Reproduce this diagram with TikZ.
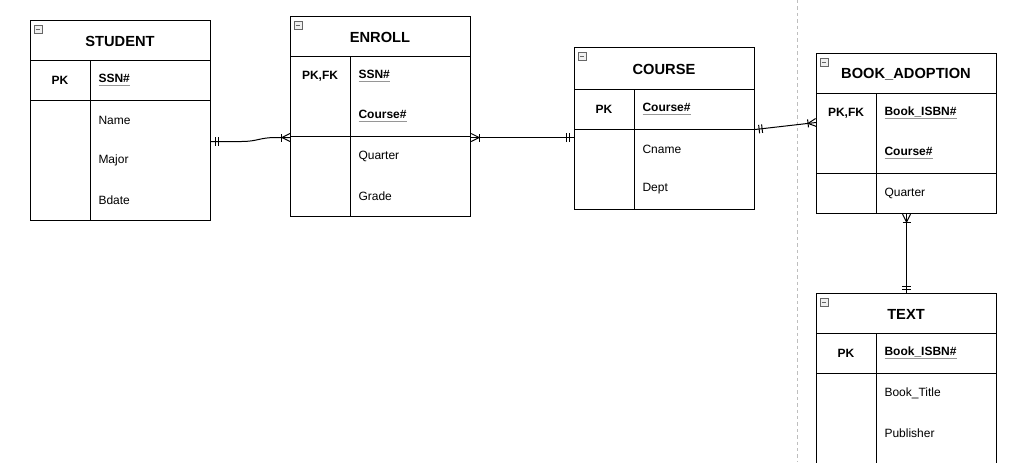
\documentclass[tikz,border=0pt]{standalone}
\usepackage{fontspec}
\setmainfont{Liberation Sans}
\usetikzlibrary{positioning, calc, decorations.markings}

\definecolor{keygray}{RGB}{150,150,150}
\definecolor{sepgray}{RGB}{190,190,190}

\newcommand{\keyname}[1]{{\color{keygray}\underline{\color{black}#1}}}

\tikzset{
  entity/.style={draw, rectangle, anchor=north west, minimum width=135pt, inner sep=0pt},
  title/.style={font=\fontsize{11}{13}\selectfont\bfseries, inner sep=0pt},
  attr/.style={font=\fontsize{9}{11}\selectfont, anchor=west, inner sep=0pt},
  keytag/.style={font=\fontsize{9}{11}\selectfont\bfseries, inner sep=0pt},
  collapse/.style={draw=gray!80!black, fill=gray!12, minimum size=6pt, inner sep=0pt, line width=0.5pt,
    path picture={\draw[line width=0.6pt] ([xshift=1.3pt]path picture bounding box.west) -- ([xshift=-1.3pt]path picture bounding box.east);}},
  sepline/.style={draw=sepgray, line width=0.75pt, dash pattern=on 2.6pt off 2.2pt},
  % crow's foot ends
  one start/.style={postaction={decorate, decoration={markings,
      mark=at position 0.1pt with {\draw (3pt,-3.2pt) -- (3pt,3.2pt); \draw (5.25pt,-3.2pt) -- (5.25pt,3.2pt);}}}},
  one end/.style={postaction={decorate, decoration={markings,
      mark=at position 0.9999 with {\draw (-3pt,-3.2pt) -- (-3pt,3.2pt); \draw (-5.25pt,-3.2pt) -- (-5.25pt,3.2pt);}}}},
  many start/.style={postaction={decorate, decoration={markings,
      mark=at position 0.1pt with {\draw (0,3pt) -- (6pt,0) -- (0,-3pt); \draw (6pt,-3pt) -- (6pt,3pt);}}}},
  many end/.style={postaction={decorate, decoration={markings,
      mark=at position 0.9999 with {\draw (0,3pt) -- (-6pt,0) -- (0,-3pt); \draw (-6pt,-3pt) -- (-6pt,3pt);}}}},
}

\begin{document}
\begin{tikzpicture}[x=0.75pt, y=-0.75pt, line width=0.75pt]
  \useasboundingbox (0,0) rectangle (1009,462);
  \clip (0,0) rectangle (1009,462);

  \draw[sepline] (797,0) -- (797,462);

  % STUDENT
  \node[entity, minimum height=150pt] (student) at (30,20) {};
  \draw (30,60) -- (210,60);
  \draw (30,100) -- (210,100);
  \draw (90,60) -- (90,220);
  \node[collapse] (student-icon) at (38,29) {};
  \node[title] (student-title) at (120,41) {STUDENT};
  \node[keytag] (student-pk) at (60,80) {PK};
  \node[attr] (student-ssn) at (98,80) {\bfseries\keyname{SSN\#}};
  \node[attr] (student-name) at (98,120) {Name};
  \node[attr] (student-major) at (98,160) {Major};
  \node[attr] (student-bdate) at (98,200) {Bdate};

  % ENROLL
  \node[entity, minimum height=150pt] (enroll) at (290,16) {};
  \draw (290,56) -- (470,56);
  \draw (290,136) -- (470,136);
  \draw (350,56) -- (350,216);
  \node[collapse] (enroll-icon) at (298,25) {};
  \node[title] (enroll-title) at (380,37) {ENROLL};
  \node[keytag] (enroll-pk) at (320,76) {PK,FK};
  \node[attr] (enroll-ssn) at (358,76) {\bfseries\keyname{SSN\#}};
  \node[attr] (enroll-course) at (358,116) {\bfseries\keyname{Course\#}};
  \node[attr] (enroll-quarter) at (358,156) {Quarter};
  \node[attr] (enroll-grade) at (358,196) {Grade};

  % COURSE
  \node[entity, minimum height=121.5pt] (course) at (574,47) {};
  \draw (574,89) -- (754,89);
  \draw (574,129) -- (754,129);
  \draw (634,89) -- (634,209);
  \node[collapse] (course-icon) at (582,56) {};
  \node[title] (course-title) at (664,69) {COURSE};
  \node[keytag] (course-pk) at (604,109) {PK};
  \node[attr] (course-no) at (642,109) {\bfseries\keyname{Course\#}};
  \node[attr] (course-cname) at (642,149) {Cname};
  \node[attr] (course-dept) at (642,189) {Dept};

  % BOOK_ADOPTION
  \node[entity, minimum height=120pt] (bookad) at (816,53) {};
  \draw (816,93) -- (996,93);
  \draw (816,173) -- (996,173);
  \draw (876,93) -- (876,213);
  \node[collapse] (bookad-icon) at (824,62) {};
  \node[title] (bookad-title) at (906,74) {BOOK\_ADOPTION};
  \node[keytag] (bookad-pk) at (846,113) {PK,FK};
  \node[attr] (bookad-isbn) at (884,113) {\bfseries\keyname{Book\_ISBN\#}};
  \node[attr] (bookad-course) at (884,153) {\bfseries\keyname{Course\#}};
  \node[attr] (bookad-quarter) at (884,193) {Quarter};

  % TEXT
  \node[entity, minimum height=150pt] (text) at (816,293) {};
  \draw (816,333) -- (996,333);
  \draw (816,373) -- (996,373);
  \draw (876,333) -- (876,493);
  \node[collapse] (text-icon) at (824,302) {};
  \node[title] (text-title) at (906,314) {TEXT};
  \node[keytag] (text-pk) at (846,353) {PK};
  \node[attr] (text-isbn) at (884,353) {\bfseries\keyname{Book\_ISBN\#}};
  \node[attr] (text-booktitle) at (884,393) {Book\_Title};
  \node[attr] (text-publisher) at (884,433) {Publisher};

  % relationships
  \draw[one start, many end] ([yshift=-15.75pt]student.east) -- ++(30,0)
    .. controls +(17,0) and +(-17,0) .. ++(35,-4) -- ([yshift=-15.75pt]enroll.west);
  \draw[many start, one end] ([yshift=-15.75pt]enroll.east) -- ([yshift=-6.75pt]course.west);
  \draw[one start, many end] ([yshift=-0.75pt]course.east) -- ([yshift=8.25pt]bookad.west);
  \draw[many start, one end] (bookad.south) -- (text.north);
\end{tikzpicture}
\end{document}
